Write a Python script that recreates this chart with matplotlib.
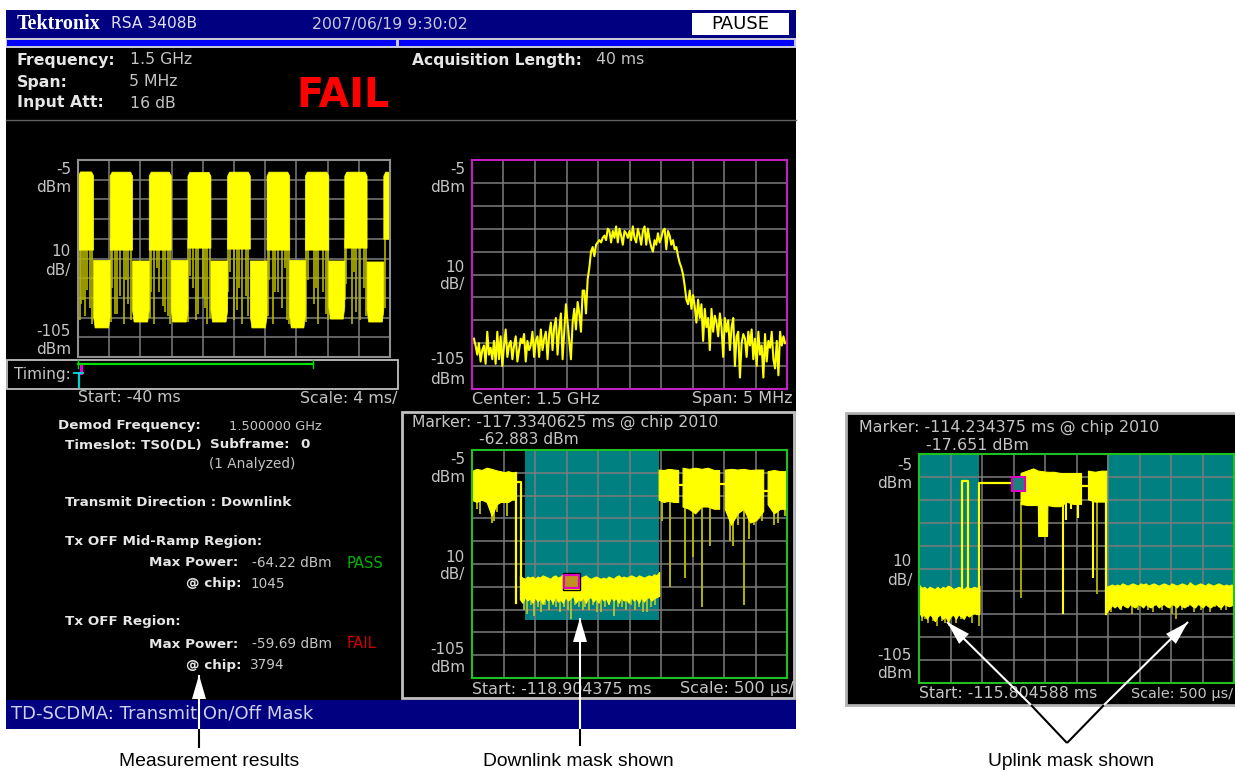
import numpy as np
import matplotlib
matplotlib.use("Agg")
import matplotlib.pyplot as plt
from matplotlib.patches import Rectangle, Polygon

W, H = 1235, 775
nan = float("nan")

YELLOW = "#FFFF00"
DARK_YELLOW = "#B4B400"
TEAL = "#008080"
GRID = "#7C7C7C"
NAVY = "#000080"
TXT = "#C4C4C4"
TXT_B = "#E6E6E6"

# --- power vs time, whole acquisition (ms, dBm) ---
on_start = [-40.0, -35.94, -30.93, -25.97, -20.88, -15.83, -10.91, -5.86, -0.86]
on_stop = [-38.07, -33.07, -28.11, -23.02, -17.97, -12.92, -7.91, -3.0, 0.0]
on_top = [-10.8, -10.9, -10.9, -11.0, -10.9, -10.9, -10.9, -10.9, -10.9]
on_bottom = [-50.5, -50.5, -50.5, -49.5, -50.0, -50.5, -50.5, -49.5, -45.0]
off_start = [-38.07, -33.07, -28.11, -23.02, -17.97, -12.92, -7.91, -3.0]
off_stop = [-35.94, -30.93, -25.97, -20.88, -15.83, -10.91, -5.86, -0.86]
off_top = [-55.7, -56.0, -55.7, -56.0, -56.0, -55.7, -56.0, -56.5]
off_bottom = [-90.0, -87.0, -87.0, -87.0, -90.0, -90.0, -85.5, -87.0]
pvt_spike_t = [-39.8, -39.6, -39.4, -39.1, -38.8, -38.5, -38.2,
               -35.8, -35.6, -35.3, -35.0, -34.6, -34.1, -33.8, -33.6, -33.2,
               -30.8, -30.6, -30.2, -29.9, -29.6, -29.1, -28.8, -28.5, -28.2,
               -25.9, -25.7, -25.2, -24.9, -24.6, -24.0, -23.7, -23.4, -23.1,
               -20.8, -20.5, -20.0, -19.6, -19.3, -19.0, -18.5, -18.2,
               -15.7, -15.5, -15.0, -14.7, -14.3, -13.8, -13.5, -13.2, -13.0,
               -10.8, -10.5, -9.8, -9.5, -9.2, -8.6, -8.2, -8.0,
               -5.8, -5.6, -4.9, -4.6, -4.4, -3.8, -3.3, -3.1, -0.6, -0.05]
pvt_spike_lo = [-86, -78, -76, -84, -71, -80, -88,
                -87, -70, -83, -83, -74, -88, -66, -78, -86,
                -85, -72, -88, -60, -72, -79, -82, -84, -88,
                -87, -64, -70, -86, -83, -75, -80, -88, -85,
                -72, -62, -86, -81, -70, -88, -74, -84,
                -84, -66, -88, -72, -72, -80, -60, -86, -88,
                -87, -66, -78, -70, -88, -72, -83, -86,
                -76, -68, -88, -62, -82, -86, -70, -84, -80, -88]

# --- spectrum (dBm), left to right across 5 MHz span ---
spectrum_dbm = [
    -83, -86, -90, -85, -93, -88, -86, -94, -80, -90, -87, -92, -84, -94, -80, -92,
    -82, -95, -86, -79, -91, -86, -84, -92, -86, -82, -93, -88, -83, -85, -81, -93,
    -84, -88, -86, -80, -91, -84, -82, -91, -79, -88, -83, -80, -92, -81, -76, -88,
    -78, -74, -90, -79, -72, -92, -80, -68, -76, -84, -92, -76, -70, -79, -67, -72,
    -80, -62, -62, -72, -57, -52, -45, -43, -47, -42, -41, -40, -41, -39, -38, -40,
    -35, -36, -41, -36, -39, -34, -41, -35, -38, -42, -36, -37, -39, -36, -40, -34,
    -39, -41, -35, -38, -42, -36, -34, -42, -35, -40, -43, -45, -40, -42, -37, -41,
    -39, -36, -35, -44, -36, -38, -42, -40, -44, -43, -47, -50, -52, -55, -60, -66,
    -68, -62, -70, -64, -69, -76, -66, -74, -68, -84, -70, -78, -74, -88, -70, -80,
    -73, -76, -82, -72, -78, -91, -74, -80, -75, -88, -78, -74, -95, -82, -80, -100,
    -85, -81, -83, -91, -80, -86, -79, -92, -83, -95, -80, -90, -86, -100, -81, -93,
    -84, -87, -80, -92, -96, -84, -99, -80, -86, -82, -85]

# --- downlink zoom (ms from start, dBm); nan separates the blocks ---
dl_on_t = [0.0, 0.08, 0.16, 0.24, 0.32, 0.40, 0.46, 0.52, 0.58, 0.64, 0.70, 0.701,
           2.97, 3.05, 3.13, 3.21, 3.28, 3.281,
           3.35, 3.45, 3.55, 3.65, 3.75, 3.85, 3.93, 3.931,
           4.02, 4.12, 4.22, 4.32, 4.42, 4.52, 4.63, 4.631,
           4.70, 4.80, 4.90, 5.0]
dl_on_hi = [-14.5, -13.5, -14.0, -13.0, -13.5, -14.2, -14.5, -15.0, -14.5, -15.0, -15.0, nan,
            -13.8, -14.0, -13.5, -13.8, -14.0, nan,
            -13.0, -13.5, -13.0, -13.5, -13.0, -14.0, -14.0, nan,
            -13.8, -13.5, -13.8, -13.5, -14.0, -13.8, -13.8, nan,
            -14.5, -14.0, -14.5, -14.5]
dl_on_lo = [-27.0, -28.0, -27.0, -28.0, -34.0, -29.0, -28.0, -28.0, -28.0, -27.0, -27.0, nan,
            -27.0, -28.0, -27.5, -28.0, -28.0, nan,
            -30.0, -31.0, -33.0, -30.0, -30.0, -31.0, -31.0, nan,
            -31.0, -38.0, -33.0, -31.0, -37.0, -36.0, -32.0, nan,
            -29.0, -33.0, -31.0, -31.0]
dl_off_hi = [-60.0, -61.0, -61.5, -60.5, -61.0, -60.5, -61.5, -60.5, -61.0, -60.0, -60.5, -61.0, -61.5, -60.5,
             -60.0, -61.0, -60.5, -59.5, -60.5, -61.0, -60.0, -60.5, -59.5, -60.5, -61.0, -60.5, -60.0, -61.0,
             -61.5, -61.0, -60.5, -61.0, -61.5, -61.0, -61.5, -60.5, -61.0, -61.5, -60.5, -60.0, -61.0, -60.5,
             -61.0, -60.5, -60.0, -60.5, -61.0, -60.0, -60.5, -61.0, -60.5, -60.0, -60.5, -59.5, -60.0, -58.5]
dl_off_lo = [-70.5, -72.0, -69.5, -71.0, -70.0, -72.0, -69.5, -71.5, -70.0, -72.5, -69.5, -71.0, -70.0, -72.0,
             -69.0, -71.5, -70.5, -72.0, -69.5, -71.0, -70.0, -69.0, -72.0, -70.5, -71.0, -69.5, -72.0, -70.0,
             -69.5, -71.5, -70.0, -72.0, -69.5, -71.0, -70.0, -72.5, -69.5, -71.0, -70.0, -72.0, -69.5, -71.0,
             -70.5, -72.0, -69.5, -71.0, -70.0, -72.0, -69.5, -71.5, -70.0, -69.5, -71.0, -70.0, -69.5, -69.0]
dl_thin_t = [0.70, 0.70, nan, 0.70, 0.78, 0.78, nan, 3.28, 3.35, nan, 3.93, 4.02, nan, 4.63, 4.70]
dl_thin_y = [-15, -72, nan, -19, -19, -62, nan, -20.5, -20.5, nan, -20.0, -20.0, nan, -23.0, -23.0]
dl_spike_t = [0.08, 0.12, 0.31, 0.35, 0.40, 0.55, 3.01, 3.15, 3.38, 3.51, 3.65, 3.78, 4.10, 4.15,
              4.22, 4.31, 4.40, 4.47, 4.60, 4.80, 4.85, 4.97]
dl_spike_lo = [-31, -33, -37, -36, -32, -34, -36, -65, -61, -52, -74, -47, -45, -47,
               -38, -73, -44, -38, -36, -38, -37, -34]
dl_off_spike_t = [0.82, 0.88, 0.94, 0.99, 1.05, 1.10, 1.16, 1.22, 1.28, 1.34, 1.40, 1.46, 1.52, 1.57, 1.64, 1.70,
                  1.76, 1.80, 1.86, 1.92, 1.98, 2.05, 2.11, 2.18, 2.25, 2.31, 2.38, 2.44, 2.53, 2.59, 2.65, 2.72,
                  2.78, 2.84, 2.90]
dl_off_spike_lo = [-75, -77, -73, -78, -74, -76, -73, -75, -73, -74, -76, -74, -75, -79, -73, -74,
                   -75, -74, -75, -73, -76, -76, -74, -73, -78, -74, -74, -75, -73, -75, -74, -76,
                   -76, -74, -73]

# --- uplink zoom (ms from start, dBm) ---
ul_on_t = [1.62, 1.72, 1.82, 1.895, 1.90, 2.04, 2.045, 2.15, 2.25, 2.35, 2.45, 2.58, 2.581,
           2.69, 2.80, 2.90, 2.98]
ul_on_hi = [-13.5, -12.5, -11.5, -12.5, -12.5, -13.0, -13.0, -13.0, -13.5, -13.5, -13.5, -13.5, nan,
            -12.5, -13.0, -12.5, -12.5]
ul_on_lo = [-27.0, -27.5, -27.5, -27.5, -41.0, -41.0, -27.5, -28.0, -28.0, -26.0, -27.0, -27.0, nan,
            -25.0, -26.0, -26.0, -26.0]
ul_left_hi = [-62.0, -63.5, -63.0, -64.0, -63.0, -63.5, -64.0, -63.0, -64.0, -63.0, -63.5, -62.5,
              -63.0, -64.0, -63.5, -63.0, -63.5, -64.0, -63.0, -63.5, -63.5, -63.0, -63.5, -62.5]
ul_left_lo = [-74.0, -76.0, -75.0, -77.0, -75.0, -76.0, -78.0, -76.0, -75.0, -77.0, -76.0, -78.0,
              -76.0, -75.0, -77.0, -75.0, -76.0, -77.0, -75.0, -76.0, -75.0, -74.5, -75.0, -74.0]
ul_right_hi = [-63.0, -62.5, -62.0, -62.5, -62.0, -62.5, -61.5, -62.0, -62.5, -62.0, -61.5, -62.0, -62.5,
               -61.5, -62.0, -61.5, -62.5, -62.0, -61.5, -62.0, -62.5, -62.0, -61.5, -62.0, -62.5, -61.5,
               -62.0, -62.5, -62.0, -61.5, -62.0, -62.5, -61.0, -62.0, -62.5, -62.0, -61.5, -62.0, -62.5,
               -61.5, -62.0, -62.5, -62.0, -61.5, -62.0, -62.5, -62.0, -62.5, -62.0, -62.5]
ul_right_lo = [-74.0, -72.5, -71.0, -72.0, -71.0, -72.5, -70.5, -71.5, -72.0, -70.5, -71.5, -72.0, -70.5,
               -71.0, -72.0, -70.5, -71.5, -72.0, -71.0, -70.5, -72.0, -71.0, -70.5, -71.5, -72.0, -70.5,
               -71.0, -72.0, -70.5, -71.5, -72.0, -71.0, -70.5, -71.5, -72.0, -70.5, -71.0, -72.0, -70.5,
               -71.5, -72.0, -71.0, -70.5, -71.5, -72.0, -70.5, -71.0, -71.5, -71.0, -71.0]
ul_thin_t = [0.69, 0.69, 0.77, 0.77, nan, 0.96, 0.96, 1.50, nan, 2.58, 2.69, nan, 2.97, 2.97]
ul_thin_y = [-64, -17, -17, -64, nan, -75, -17.7, -17.7, nan, -19, -19, nan, -26, -75]
ul_bright_t = [2.28, 2.34, 2.42, 2.52, 2.76]
ul_bright_hi = [-27, -26, -27, -26, -25]
ul_bright_lo = [-75, -34, -29, -33, -59]
ul_spike_t = [0.05, 0.10, 0.15, 0.22, 0.28, 0.36, 0.42, 0.47, 0.58, 0.66, 0.84, 0.95,
              3.05, 3.12, 3.20, 3.28, 3.38, 3.48, 3.55, 3.64, 3.72, 3.85, 3.95, 4.02, 4.08,
              4.18, 4.27, 4.36, 4.48, 4.62, 4.70, 4.80, 4.88, 4.96]
ul_spike_lo = [-78, -77, -79, -78, -80, -78, -79, -80, -79, -77, -79, -80,
               -74, -72, -73, -72, -75, -73, -72, -73, -74, -73, -72, -75, -77,
               -73, -72, -74, -73, -74, -72, -73, -73, -72]
ul_on_spike_t = [1.62, 2.82]
ul_on_spike_lo = [-68, -66]


def rect(x0, y0, x1, y1):
    # pixel box, top-left origin -> figure fraction
    return [x0 / W, 1 - y1 / H, (x1 - x0) / W, (y1 - y0) / H]


def add_trace_axes(x0, y0, x1, y1, xlim, edge):
    ax = fig.add_axes(rect(x0, y0, x1, y1), facecolor="black", zorder=1)
    ax.set_xlim(*xlim)
    ax.set_ylim(-105, -5)
    ax.set_xticks(np.linspace(xlim[0], xlim[1], 11))
    ax.set_yticks(np.arange(-105, -4, 10))
    ax.grid(True, color=GRID, linewidth=1.1)
    ax.set_axisbelow(False)
    ax.tick_params(length=0, labelleft=False, labelbottom=False)
    for s in ax.spines.values():
        s.set_color(edge)
        s.set_linewidth(1.5)
        s.set_zorder(6)
    return ax


def band(ax, t, hi, lo):
    ax.fill_between(t, lo, hi, color=YELLOW, linewidth=0.8, zorder=4)


fig = plt.figure(figsize=(W / 100, H / 100), dpi=100, facecolor="white")
plt.rcParams["font.family"] = ["DejaVu Sans"]

bg = fig.add_axes([0, 0, 1, 1], zorder=0)
bg.set_xlim(0, W)
bg.set_ylim(H, 0)
bg.axis("off")


def label(x, y, s, color=TXT, size=11.3, weight="normal", ha="left", **kw):
    bg.text(x, y, s, color=color, fontsize=size, fontweight=weight, ha=ha, va="center", **kw)


def box(x0, y0, x1, y1, **kw):
    bg.add_patch(Rectangle((x0, y0), x1 - x0, y1 - y0, **kw))


# screen body
box(6, 10, 796, 729, color="black", lw=0)
box(6, 10, 796, 38, color=NAVY, lw=0)
box(6, 38, 796, 48, facecolor="#C8C8D8", lw=0)
box(7, 40, 396, 46, color="#0000FF", lw=0)
box(399, 40, 794, 46, color="#0000FF", lw=0)
box(692, 13, 789, 35, color="white", lw=0)
box(6, 700, 796, 729, color=NAVY, lw=0)
bg.plot([6, 796], [120, 120], color="#606060", lw=1)
box(7, 360, 398, 389, fill=False, edgecolor="#C0C0C0", lw=1.3)
box(402, 412, 794, 698, fill=False, edgecolor="#C0C0C0", lw=2)
box(846, 413, 1240, 705, facecolor="black", edgecolor="#B0B0B0", lw=2)

# header
label(17, 24, "Tektronix", color="white", size=14.5, weight="bold", family="Liberation Serif")
label(111, 24, "RSA 3408B", color="#E0E0F0", size=11.2)
label(312, 24, "2007/06/19 9:30:02", color="#C8C8E0", size=11.3)
label(740, 24, "PAUSE", color="black", size=13, ha="center")
label(17, 60, "Frequency:", color=TXT_B, size=11.3, weight="bold")
label(130, 60, "1.5 GHz")
label(17, 82, "Span:", color=TXT_B, size=11.3, weight="bold")
label(129, 82, "5 MHz")
label(17, 103, "Input Att:", color=TXT_B, size=11.3, weight="bold")
label(130, 103, "16 dB")
label(296, 96, "FAIL", color="#FF0000", size=28.5, weight="bold")
label(412, 60, "Acquisition Length:", color=TXT_B, size=11.2, weight="bold")
label(596, 60, "40 ms")

# y scale labels of the four traces
for xr, ys in [(71, [170, 188, 251, 270, 331, 349]),
               (465, [170, 188, 267, 285, 360, 379]),
               (465, [460, 477, 557, 575, 650, 668]),
               (912, [465, 483, 561, 580, 655, 674])]:
    for y, s in zip(ys, ["-5", "dBm", "10", "dB/", "-105", "dBm"]):
        label(xr, y, s, ha="right", size=11)

# timing strip
label(14, 374, "Timing:", size=11)
bg.plot([78, 313], [364, 364], color="#00E000", lw=1.6)
bg.plot([78, 78], [360, 368], color="#00E000", lw=1)
bg.plot([313, 313], [360, 368], color="#00E000", lw=1)
bg.plot([81, 81], [366, 373], color="#E000E0", lw=2.2)
bg.plot([79, 79], [373, 387], color="#00D0D0", lw=1.6)
bg.plot([74, 83], [373, 373], color="#00D0D0", lw=1.4)
label(78, 398, "Start: -40 ms")
label(397, 398, "Scale: 4 ms/", size=11.4, ha="right")
label(472, 399, "Center: 1.5 GHz", size=11.5)
label(793, 399, "Span: 5 MHz", size=11.5, ha="right")

# results text
BOLD = 9.7
REG = 9.8
label(58, 426, "Demod Frequency:", color=TXT_B, size=BOLD, weight="bold")
label(229, 426, "1.500000 GHz", size=9.4)
label(65, 445, "Timeslot: TS0(DL)", color=TXT_B, size=BOLD, weight="bold")
label(210, 445, "Subframe:", color=TXT_B, size=BOLD, weight="bold")
label(300, 445, "0", color=TXT_B, size=BOLD, weight="bold")
label(209, 464, "(1 Analyzed)", size=REG)
label(65, 502, "Transmit Direction : Downlink", color=TXT_B, size=BOLD, weight="bold")
label(65, 541, "Tx OFF Mid-Ramp Region:", color=TXT_B, size=BOLD, weight="bold")
label(149, 563, "Max Power:", color=TXT_B, size=BOLD, weight="bold")
label(252, 563, "-64.22 dBm", size=REG)
label(346, 563, "PASS", color="#00B000", size=10.6)
label(186, 584, "@ chip:", color=TXT_B, size=BOLD, weight="bold")
label(251, 584, "1045", size=REG)
label(65, 622, "Tx OFF Region:", color=TXT_B, size=BOLD, weight="bold")
label(149, 644, "Max Power:", color=TXT_B, size=BOLD, weight="bold")
label(252, 644, "-59.69 dBm", size=REG)
label(346, 644, "FAIL", color="#D00000", size=10.6)
label(186, 665, "@ chip:", color=TXT_B, size=BOLD, weight="bold")
label(250, 665, "3794", size=REG)
label(11, 713, "TD-SCDMA: Transmit On/Off Mask", color="#D0D0F0", size=13)

# trace panel captions
label(412, 422, "Marker: -117.3340625 ms @ chip 2010", size=11.25)
label(479, 440, "-62.883 dBm", size=11.2)
label(472, 689, "Start: -118.904375 ms", size=11.4)
label(794, 689, "Scale: 500 µs/", size=11.6, ha="right")
label(859, 427, "Marker: -114.234375 ms @ chip 2010", size=11.4)
label(926, 445, "-17.651 dBm", size=11.4)
label(919, 694, "Start: -115.804588 ms", size=11.3)
label(1233, 694, "Scale: 500 µs/", size=10.4, ha="right")

# captions below the screen
label(209, 762, "Measurement results", color="black", size=13.9, ha="center", family="Liberation Sans")
label(578, 762, "Downlink mask shown", color="black", size=13.9, ha="center", family="Liberation Sans")
label(1071, 762, "Uplink mask shown", color="black", size=13.9, ha="center", family="Liberation Sans")

# power vs time
ax1 = add_trace_axes(78, 160, 390, 357, (-40, 0), "#909090")
ax1.vlines(pvt_spike_t, pvt_spike_lo, -45, color=DARK_YELLOW, lw=1.2, zorder=3)
for a, b, hi, lo in zip(on_start, on_stop, on_top, on_bottom):
    ax1.fill_between([a, a + 0.25, b - 0.25, b], lo, [hi - 2, hi, hi, hi - 2], color=YELLOW, lw=0.5, zorder=4)
for a, b, hi, lo in zip(off_start, off_stop, off_top, off_bottom):
    ax1.fill_between([a, a + 0.2, b - 0.2, b], [lo + 6, lo, lo, lo + 6], hi, color=YELLOW, lw=0.5, zorder=4)

# spectrum
ax2 = add_trace_axes(472, 160, 787, 389, (-2.5, 2.5), "#C020C0")
ax2.plot(np.linspace(-2.47, 2.47, len(spectrum_dbm)), spectrum_dbm, color=YELLOW, lw=1.5, zorder=4)

# downlink mask
ax3 = add_trace_axes(472, 450, 787, 678, (0, 5), "#20C020")
ax3.fill_between([0.838, 2.97], -79.5, -5, color=TEAL, lw=0, zorder=1)
ax3.vlines(dl_spike_t, dl_spike_lo, -26, color=DARK_YELLOW, lw=1.4, zorder=3)
ax3.vlines(dl_off_spike_t, dl_off_spike_lo, -68, color="#B0C830", lw=1.3, zorder=3)
ax3.plot(dl_thin_t, dl_thin_y, color=YELLOW, lw=1.6, zorder=4)
band(ax3, dl_on_t, dl_on_hi, dl_on_lo)
band(ax3, np.linspace(0.76, 2.97, len(dl_off_hi)), dl_off_hi, dl_off_lo)
ax3.add_patch(Rectangle((1.44, -66.2), 0.28, 7.1, fill=False, edgecolor="black", lw=1, zorder=5))
ax3.add_patch(Rectangle((1.46, -65.6), 0.24, 5.9, facecolor="#C09020", edgecolor="#E000C0", lw=1.5, zorder=5))

# uplink mask
ax4 = add_trace_axes(919, 454, 1234, 683, (0, 5), "#20C020")
ax4.fill_between([0, 0.96], -66, -5, color=TEAL, lw=0, zorder=1)
ax4.fill_between([2.98, 5], -66, -5, color=TEAL, lw=0, zorder=1)
ax4.vlines(ul_spike_t, ul_spike_lo, -68, color=DARK_YELLOW, lw=1.3, zorder=3)
ax4.vlines(ul_on_spike_t, ul_on_spike_lo, -26, color=DARK_YELLOW, lw=1.3, zorder=3)
ax4.vlines(ul_bright_t, ul_bright_lo, ul_bright_hi, color=YELLOW, lw=1.5, zorder=4)
ax4.plot(ul_thin_t, ul_thin_y, color=YELLOW, lw=1.6, zorder=4)
band(ax4, ul_on_t, ul_on_hi, ul_on_lo)
band(ax4, np.linspace(0, 0.96, len(ul_left_hi)), ul_left_hi, ul_left_lo)
band(ax4, np.linspace(2.98, 5, len(ul_right_hi)), ul_right_hi, ul_right_lo)
ax4.add_patch(Rectangle((1.47, -21), 0.21, 5.8, facecolor="#208080", edgecolor="#E000C0", lw=1.5, zorder=5))

# leader arrows, drawn over everything
fg = fig.add_axes([0, 0, 1, 1], zorder=5)
fg.set_xlim(0, W)
fg.set_ylim(H, 0)
fg.axis("off")


def leader(x0, y0, xm, ym, x1, y1, head=24, half=7):
    # black outside the screen, white inside, white arrow head at (x1, y1)
    fg.plot([x0, xm], [y0, ym], color="black", lw=1.5, solid_capstyle="butt")
    fg.plot([xm, x1], [ym, y1], color="white", lw=1.5, solid_capstyle="butt")
    d = np.array([xm - x1, ym - y1], dtype=float)
    d /= np.hypot(*d)
    n = np.array([-d[1], d[0]])
    tip = np.array([x1, y1])
    base = tip + d * head
    fg.add_patch(Polygon([tip, base + n * half, base - n * half], color="white", lw=0))


leader(199, 748, 199, 729, 199, 675)
leader(580, 746, 580, 729, 580, 618)
leader(1067, 743, 1031, 705, 947, 622)
leader(1067, 743, 1104, 705, 1188, 622)

plt.savefig("out.png", dpi=100, facecolor="white")
